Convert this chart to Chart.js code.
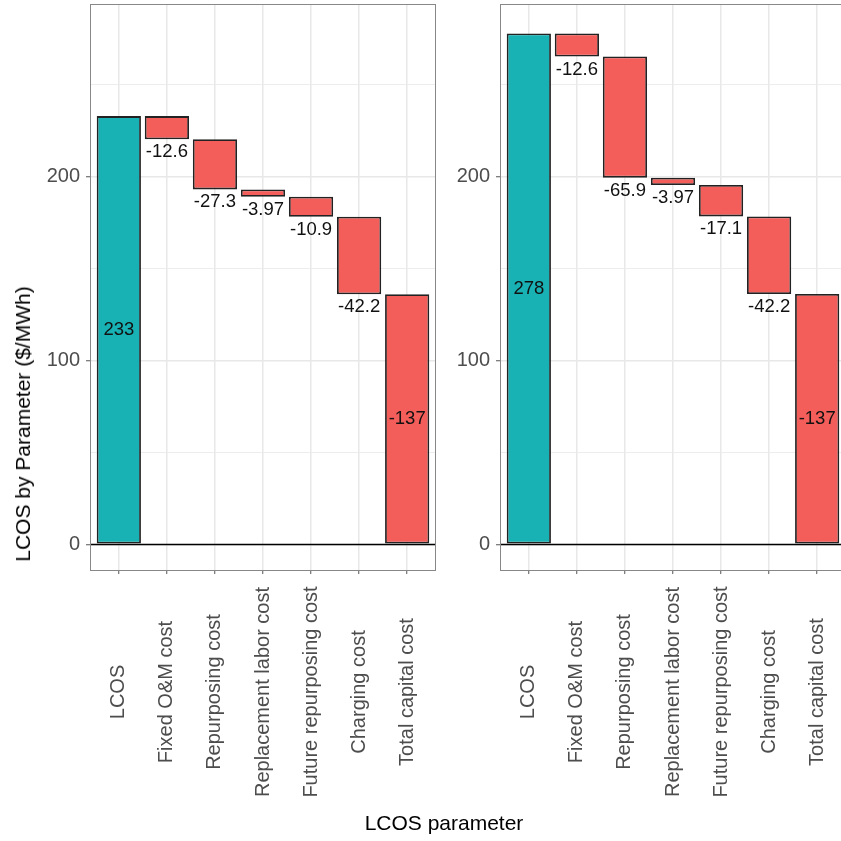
<!DOCTYPE html>
<html>
<head>
<meta charset="utf-8">
<script src="https://cdn.jsdelivr.net/npm/chart.js@4.4.1/dist/chart.umd.min.js"></script>
<style>
  html, body { margin: 0; padding: 0; background: #fff; overflow: hidden; }
  #wrap { position: relative; width: 841px; height: 841px; overflow: hidden; }
  canvas { position: absolute; top: 0; }
  #c1 { left: 0; }
  #c2 { left: 440px; }
  .title { position: absolute; font-family: 'Liberation Sans', Arial, sans-serif; font-size: 21px; color: #000; white-space: nowrap; }
  #xtitle { left: 444px; top: 823px; transform: translate(-50%, -50%); }
  #ytitle { left: 23px; top: 424px; transform: translate(-50%, -50%) rotate(-90deg); }
</style>
</head>
<body>
<div id="wrap">
  <canvas id="c1" width="440" height="841"></canvas>
  <canvas id="c2" width="410" height="841"></canvas>
  <div class="title" id="ytitle">LCOS by Parameter ($/MWh)</div>
  <div class="title" id="xtitle">LCOS parameter</div>
</div>
<script>
const categories = ['LCOS', 'Fixed O&M cost', 'Repurposing cost', 'Replacement labor cost',
                    'Future repurposing cost', 'Charging cost', 'Total capital cost'];
const leftValues = [233, -12.6, -27.3, -3.97, -10.9, -42.2, -137];
const rightValues = [278, -12.6, -65.9, -3.97, -17.1, -42.2, -137];
const yMajorTicks = [0, 100, 200];
const yMinorTicks = [50, 150, 250];
const yRange = [-14, 294];

const FONT = "'Liberation Sans', Arial, sans-serif";
const TEAL = '#19b2b4';
const RED = '#f35e5a';

// first bar is the total, each next one steps down from where the last ended
function waterfall(values) {
    let level = 0;
    return values.map((v, i) => {
        if (i === 0) { level = v; return { x: i, y: [0, v] }; }
        const start = level;
        level = Math.max(level + v, 0);
        return { x: i, y: [start, level] };
    });
}

const panelPlugin = {
    id: 'panel',
    afterDatasetsDraw(chart, args, opts) {
        const { ctx, chartArea: a, scales: { x, y } } = chart;
        const bars = chart.data.datasets[0].data;
        ctx.save();

        // zero line
        const y0 = Math.round(y.getPixelForValue(0)) + 0.5;
        ctx.strokeStyle = '#000';
        ctx.lineWidth = 1.5;
        ctx.beginPath();
        ctx.moveTo(a.left, y0);
        ctx.lineTo(a.right, y0);
        ctx.stroke();

        // value labels
        ctx.fillStyle = '#111';
        ctx.font = '18.5px ' + FONT;
        ctx.textAlign = 'center';
        opts.values.forEach((v, i) => {
            const px = x.getPixelForValue(bars[i].x);
            const top = y.getPixelForValue(Math.max(...bars[i].y));
            const bot = y.getPixelForValue(Math.min(...bars[i].y));
            if (i === 0 || i === opts.values.length - 1) {
                ctx.textBaseline = 'middle';
                ctx.fillText(String(v), px, (top + bot) / 2);
            } else {
                ctx.textBaseline = 'alphabetic';
                ctx.fillText(String(v), px, bot + 18);
            }
        });

        // panel border
        ctx.strokeStyle = '#888';
        ctx.lineWidth = 1;
        ctx.strokeRect(Math.round(a.left) + 0.5, Math.round(a.top) + 0.5,
                       Math.round(a.right - a.left) - 1, Math.round(a.bottom - a.top));

        // rotated category labels, centred on a common line
        ctx.fillStyle = '#4d4d4d';
        ctx.font = '20px ' + FONT;
        ctx.textAlign = 'center';
        ctx.textBaseline = 'middle';
        categories.forEach((c, i) => {
            ctx.save();
            ctx.translate(x.getPixelForValue(i), a.bottom + 122);
            ctx.rotate(-Math.PI / 2);
            ctx.fillText(c, 0, 0);
            ctx.restore();
        });
        ctx.restore();
    }
};

function makeChart(id, values, yWidth) {
    return new Chart(document.getElementById(id), {
        type: 'bar',
        data: {
            datasets: [{
                data: waterfall(values),
                backgroundColor: values.map((v, i) => i === 0 ? TEAL : RED),
                borderColor: '#222',
                borderWidth: 1.8,
                borderSkipped: false,
                barPercentage: 0.92,
                categoryPercentage: 1
            }]
        },
        options: {
            responsive: false,
            animation: false,
            layout: { padding: { top: 4, right: 4, left: 0, bottom: 0 } },
            plugins: {
                legend: { display: false },
                tooltip: { enabled: false },
                panel: { values }
            },
            scales: {
                x: {
                    type: 'linear',
                    min: -0.6,
                    max: 6.6,
                    offset: false,
                    afterBuildTicks: s => { s.ticks = categories.map((c, i) => ({ value: i })); },
                    afterFit: s => { s.height = 271; s.paddingLeft = 0; s.paddingRight = 0; },
                    ticks: { display: false },
                    border: { display: false },
                    grid: { offset: false, color: '#e8e8e8', lineWidth: 1.5, tickColor: '#555', tickWidth: 1, tickLength: 4 }
                },
                y: {
                    min: yRange[0],
                    max: yRange[1],
                    afterBuildTicks: s => {
                        s.ticks = [...yMajorTicks, ...yMinorTicks].sort((a, b) => a - b).map(v => ({ value: v }));
                    },
                    afterFit: s => { s.width = yWidth; s.paddingTop = 0; s.paddingBottom = 0; },
                    border: { display: false },
                    grid: {
                        color: '#e8e8e8',
                        lineWidth: c => yMajorTicks.includes(c.tick && c.tick.value) ? 1.5 : 0.8,
                        tickColor: c => yMajorTicks.includes(c.tick && c.tick.value) ? '#555' : 'rgba(0,0,0,0)',
                        tickWidth: 1,
                        tickLength: 4
                    },
                    ticks: {
                        padding: 6,
                        color: '#4d4d4d',
                        font: { family: FONT, size: 20 },
                        callback: v => yMajorTicks.includes(v) ? String(v) : ''
                    }
                }
            }
        },
        plugins: [panelPlugin]
    });
}

makeChart('c1', leftValues, 90);
makeChart('c2', rightValues, 60);
</script>
</body>
</html>
